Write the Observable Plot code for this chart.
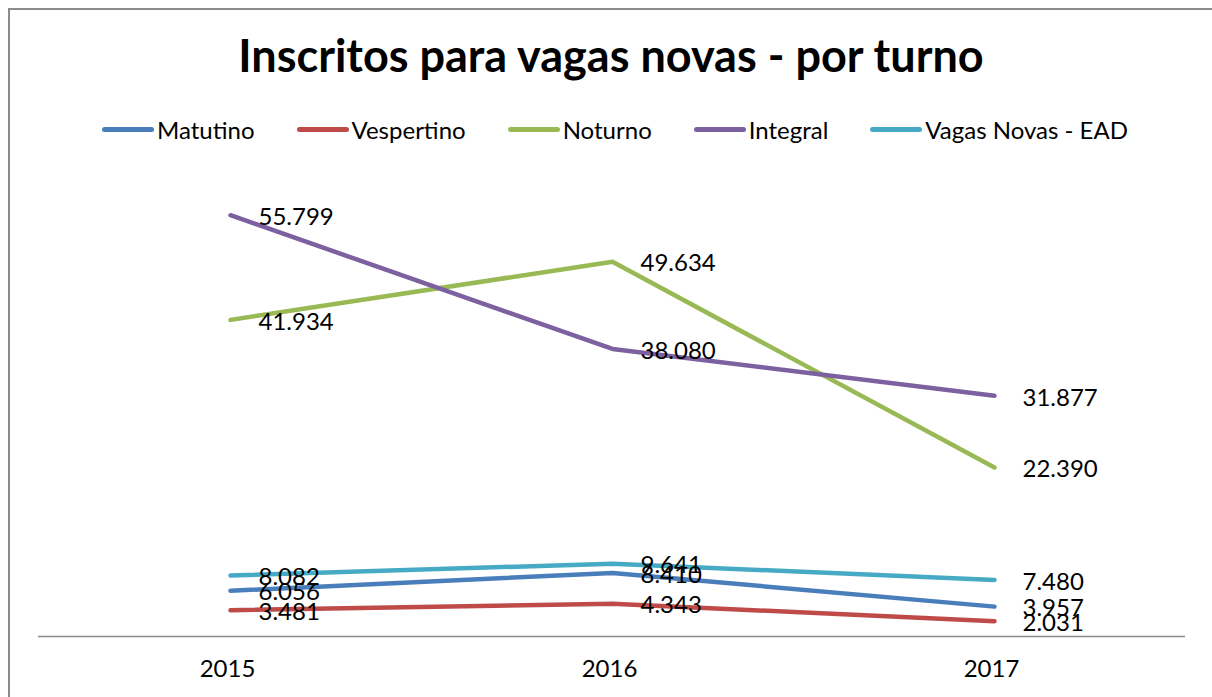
<!DOCTYPE html>
<html>
<head>
<meta charset="utf-8">
<script src="https://cdn.jsdelivr.net/npm/d3@7"></script>
<script src="https://cdn.jsdelivr.net/npm/@observablehq/plot@0.6"></script>
<style>
  html, body { margin: 0; padding: 0; background: #fff; }
  body { width: 1212px; height: 697px; position: relative; overflow: hidden; font-family: Lato, "Open Sans", sans-serif; }
  #frame { position: absolute; left: 8px; top: 8px; width: 1230px; height: 720px; border: 2px solid #8c8c8c; box-sizing: border-box; }
  #title { position: absolute; left: 0; top: 28px; width: 1222px; text-align: center; font-size: 45px; font-weight: 700; color: #000; }
  #legend { position: absolute; left: 0; top: 115px; width: 1230px; display: flex; justify-content: center; gap: 42px; font-size: 24px; color: #000; }
  .item { display: flex; align-items: center; gap: 3px; }
  .sw { width: 52px; height: 5px; border-radius: 3px; }
  #chart { position: absolute; left: 0; top: 160px; }
</style>
</head>
<body>
<div id="frame"></div>
<div id="title"></div>
<div id="legend"></div>
<div id="chart"></div>
<script>
const years = ["2015", "2016", "2017"];
const seriesNames = ["Matutino", "Vespertino", "Noturno", "Integral", "Vagas Novas - EAD"];
const seriesColors = ["#4A7EBB", "#BE4B48", "#98B954", "#7D60A0", "#46AAC5"];
const matutino = [6.056, 8.410, 3.957];
const vespertino = [3.481, 4.343, 2.031];
const noturno = [41.934, 49.634, 22.390];
const integral = [55.799, 38.080, 31.877];
const ead = [8.082, 9.641, 7.480];
const titleText = "Inscritos para vagas novas - por turno";

const seriesValues = [matutino, vespertino, noturno, integral, ead];
const data = [];
seriesNames.forEach((s, i) => years.forEach((y, j) => data.push({series: s, year: y, value: seriesValues[i][j]})));

document.getElementById("title").textContent = titleText;
const legend = document.getElementById("legend");
seriesNames.forEach((s, i) => {
  const it = document.createElement("div"); it.className = "item";
  const sw = document.createElement("div"); sw.className = "sw"; sw.style.background = seriesColors[i];
  const t = document.createElement("span"); t.textContent = s;
  it.appendChild(sw); it.appendChild(t); legend.appendChild(it);
});

const fmt = v => v.toFixed(3);

const chart = Plot.plot({
  width: 1212,
  height: 537,
  marginLeft: 38,
  marginRight: 27,
  marginTop: 23,
  marginBottom: 61,
  style: {fontFamily: "Lato, 'Open Sans', sans-serif", fontSize: "24px", color: "#000", background: "transparent"},
  x: {type: "point", domain: years, padding: 0.5, label: null, tickSize: 0, tickPadding: 23},
  y: {domain: [0, 60], axis: null},
  color: {domain: seriesNames, range: seriesColors},
  marks: [
    Plot.ruleY([0], {stroke: "#8c8c8c", strokeWidth: 1.5}),
    Plot.line(data, {x: "year", y: "value", z: "series", stroke: "series", strokeWidth: 4.5, strokeLinecap: "round", strokeLinejoin: "round"}),
    Plot.text(data, {x: "year", y: "value", text: d => fmt(d.value), textAnchor: "start", dx: 28, dy: 2, fill: "#000", fontSize: 24}),
    Plot.axisX({tickSize: 0, tickPadding: 23, fontSize: 24, dx: -3, label: null, fontWeight: 400})
  ]
});
document.getElementById("chart").appendChild(chart);
</script>
</body>
</html>
